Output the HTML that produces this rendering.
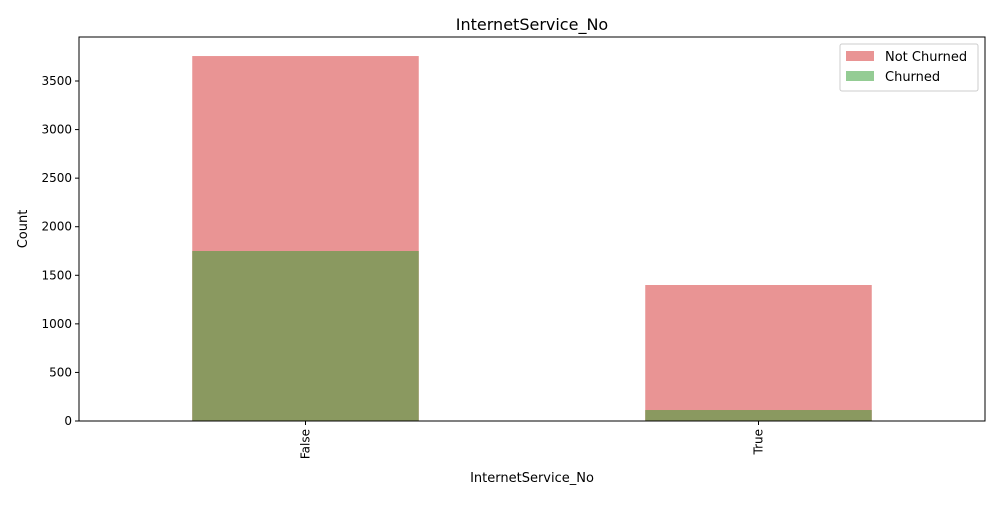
<!DOCTYPE html>
<html><head><meta charset="utf-8"><style>
body{margin:0;background:#fff;font-family:"Liberation Sans","DejaVu Sans",sans-serif;}
svg text{font-family:"DejaVu Sans","Liberation Sans",sans-serif;}
</style></head><body>
<svg id="chart" width="1000" height="500" xmlns="http://www.w3.org/2000/svg">
<rect width="1000" height="500" fill="#fff"/>
<text x="532" y="30" font-size="16" text-anchor="middle">InternetService_No</text>
<g id="plot"></g>
<text x="532" y="482" font-size="13" text-anchor="middle">InternetService_No</text>
<text transform="translate(27,229) rotate(-90)" font-size="13" text-anchor="middle">Count</text>
<g>
<rect x="840" y="44" width="138" height="47" fill="#fff" stroke="#ccc" rx="2"/>
<rect x="846" y="51" width="28" height="10" fill="#e99494"/>
<text x="885" y="61" font-size="13">Not Churned</text>
<rect x="846" y="71" width="28" height="10" fill="#94cc94"/>
<text x="885" y="81" font-size="13">Churned</text>
</g>
</svg>
<script>
const categories = ["False","True"];
const notChurned = [3757, 1400];
const churned = [1750, 113];
const yTicks = [0,500,1000,1500,2000,2500,3000,3500];

const L=79,R=985,T=37,B=421,YMAX=3953;
const ns="http://www.w3.org/2000/svg";
const g=document.getElementById('plot');
const y=v=>B-(v/YMAX)*(B-T);
const x=i=>L+(i+0.5)/2*(R-L);
const bw=0.5/2*(R-L);
function mk(tag,attrs){const e=document.createElementNS(ns,tag);for(const k in attrs)e.setAttribute(k,attrs[k]);g.appendChild(e);return e;}
categories.forEach((c,i)=>{
  const r1=mk('rect',{x:x(i)-bw/2,y:y(notChurned[i]),width:bw,height:B-y(notChurned[i]),fill:'#e99494'});
  
  
  const r2=mk('rect',{x:x(i)-bw/2,y:y(churned[i]),width:bw,height:B-y(churned[i]),fill:'#8a9960'});
  
  
  mk('line',{x1:x(i),x2:x(i),y1:B,y2:B+4,stroke:'#000'});
  const t=mk('text',{x:0,y:0,'font-size':12,'text-anchor':'end',transform:`translate(${x(i)+4},${B+8}) rotate(-90)`});
  t.textContent=c;
  
  
});
yTicks.forEach(v=>{
  mk('line',{x1:L-4,x2:L,y1:y(v),y2:y(v),stroke:'#000'});
  const t=mk('text',{x:L-7,y:y(v)+4,'font-size':12,'text-anchor':'end'});
  t.textContent=v;
  
  
});
const f=mk('rect',{x:L,y:T,width:R-L,height:B-T,fill:'none',stroke:'#000'});


</script>
</body></html>
